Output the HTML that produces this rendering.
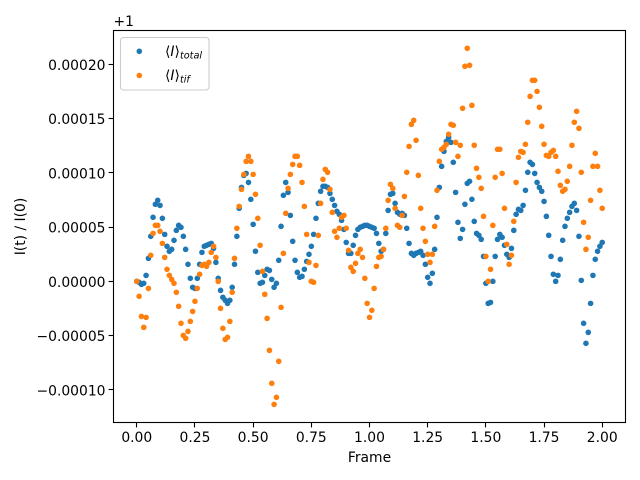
<!DOCTYPE html>
<html>
<head>
<meta charset="utf-8">
<title>Intensity vs Frame</title>
<style>
html,body{margin:0;padding:0;background:#fff;width:640px;height:480px;overflow:hidden}
svg{display:block}
text{font-family:"DejaVu Sans","Liberation Sans",sans-serif;font-size:13.89px;fill:#000}
</style>
</head>
<body>
<svg id="chart" xmlns="http://www.w3.org/2000/svg" width="640" height="480" viewBox="0 0 640 480">
  <rect x="0" y="0" width="640" height="480" fill="#fff"/>
  <g id="marks-total"></g>
  <g id="marks-tif"></g>
  <g id="ticks"></g>
  <rect x="113.5" y="30.5" width="512" height="392" fill="none" stroke="#000" stroke-width="1.1"/>
  <text x="113.5" y="26">+1</text>
  <text x="369.5" y="462" text-anchor="middle">Frame</text>
  <text x="0" y="0" text-anchor="middle" transform="translate(25,226.5) rotate(-90)">I(t) / I(0)</text>
  <g>
    <rect x="120.5" y="37.5" width="88.5" height="52.5" rx="3" ry="3" fill="#fff" fill-opacity="0.8" stroke="#ccc" stroke-width="1.1"/>
    <circle cx="139.3" cy="51.3" r="2.8" fill="#1f77b4"/>
    <circle cx="139.3" cy="75.5" r="2.8" fill="#ff7f0e"/>
    <text x="165" y="56">⟨<tspan font-style="italic">I</tspan>⟩<tspan font-style="italic" font-size="9.7" dy="2.5">total</tspan></text>
    <text x="165" y="80">⟨<tspan font-style="italic">I</tspan>⟩<tspan font-style="italic" font-size="9.7" dy="2.5">tif</tspan></text>
  </g>
</svg>
<script>
// Values are offsets from 1, in units of 1e-6; one value per frame step.
const frameStep = 0.01;
const totalValues = [
0,-0.9,-2.8,-1.8,5.5,21.2,41.5,59.0,71.0,74.7,70.0,58.1,43.3,32.3,27.7,29.5,37.8,47.0,51.6,49.8,
41.5,29.5,15.7,2.8,-5.5,-6.5,2.8,15.7,26.7,32.3,33.2,34.1,35.0,30.4,17.5,2.8,-8.3,-14.7,-17.5,-20.3,
-17.5,-5.5,15.7,41.5,67.3,86.6,97.7,99.5,91.2,75.6,52.5,27.7,8.3,-1.8,-0.9,5.5,11.1,10.1,1.8,-5.5,
-1.8,19.4,50.7,79.3,91.2,82.0,60.8,36.9,19.4,8.3,3.7,4.6,11.1,18.4,24.9,32.3,43.3,58.1,71.9,83.0,
87.6,87.6,86.6,81.1,75.6,70.0,64.5,61.8,56.2,47.9,35.9,25.8,25.8,33.2,42.4,47.9,49.8,50.7,51.6,51.6,
50.7,49.8,48.9,44.2,35.0,27.7,29.5,44.2,65.4,80.2,81.1,71.9,63.6,61.8,62.7,60.8,48.9,35.0,25.8,24.0,
25.8,26.7,27.7,24.0,15.7,3.7,-1.8,7.4,29.5,59.0,86.6,106.0,119.8,129.0,132.7,128.1,109.7,82.0,54.4,39.6,
47.9,71.0,90.3,92.2,75.6,55.3,44.2,42.4,38.7,23.0,-1.8,-20.3,-19.4,0,23.0,38.7,43.3,40.6,33.2,24.9,
22.1,30.4,47.0,61.8,66.4,65.4,70.0,83.9,100.5,109.7,107.8,99.5,91.2,86.6,83.0,73.7,59.9,42.4,23.0,6.5,
0,5.5,20.3,37.8,50.7,58.1,63.6,69.1,71.9,65.4,41.5,0.9,-38.7,-57.1,-47.0,-20.3,5.5,20.3,27.7,32.3,35.9
];
const tifValues = [
0,-13.8,-32.3,-42.4,-33.2,-6.5,24.0,44.2,51.6,51.6,46.1,35.0,22.1,11.1,5.5,1.8,-1.8,-10.1,-23.0,-38.7,
-49.8,-52.5,-46.1,-36.9,-27.7,-18.4,-6.5,6.5,14.7,15.7,13.8,17.5,26.7,32.3,22.1,0,-24.9,-43.3,-53.5,-51.6,
-36.9,-10.1,21.2,48.9,69.1,84.8,98.6,110.6,115.2,110.6,98.6,80.2,58.1,33.2,9.2,-12.0,-34.1,-63.6,-94.0,-113.4,
-106.9,-73.7,-24.0,25.8,62.7,85.7,98.6,107.8,115.2,115.2,106.9,91.2,69.1,43.3,17.5,0,-0.9,14.7,42.4,71.9,
94.0,103.2,100.5,84.8,63.6,46.1,40.6,48.9,59.0,60.8,48.9,28.6,12.9,9.2,16.6,25.8,29.5,22.1,2.8,-20.3,
-33.2,-26.7,-6.5,13.8,22.1,23.0,29.5,48.9,74.7,89.4,85.7,67.3,51.6,49.8,60.8,78.3,100.5,124.4,144.7,148.4,
130.0,97.7,67.3,48.9,36.9,24.9,17.5,24.9,50.7,83.9,110.6,121.7,123.5,126.3,135.5,144.7,143.8,128.1,115.2,125.4,
159.5,198.2,214.8,199.1,162.2,125.4,104.2,95.9,85.7,59.9,23.0,0,11.1,51.6,95.9,121.7,121.7,99.5,67.3,34.1,
15.7,24.0,55.3,91.2,114.3,119.8,118.9,126.3,146.6,170.5,185.3,185.3,175.1,160.4,142.9,126.3,116.1,115.2,118.9,120.7,
115.2,101.4,88.5,83.0,84.8,92.2,106.0,125.4,146.6,156.7,141.0,100.5,54.4,29.5,40.6,74.7,106.0,118.0,106.0,83.9,67.3
];
const xTickValues = [0, 0.25, 0.5, 0.75, 1, 1.25, 1.5, 1.75, 2];
const xTickLabels = ["0.00","0.25","0.50","0.75","1.00","1.25","1.50","1.75","2.00"];
const yTickValues = [-100, -50, 0, 50, 100, 150, 200];
const yTickLabels = ["\u22120.00010","\u22120.00005","0.00000","0.00005","0.00010","0.00015","0.00020"];

const NS = "http://www.w3.org/2000/svg";
function xScale(v) { return 113.5 + (v + 0.1) / 2.2 * 512; }
function yScale(v) { return 422.5 - (v + 130.1) / 361.3 * 392; }

function drawSeries(groupId, values, color, markName) {
  const group = document.getElementById(groupId);
  values.forEach(function (value, i) {
    const dot = document.createElementNS(NS, "circle");
    dot.setAttribute("cx", xScale(i * frameStep).toFixed(2));
    dot.setAttribute("cy", yScale(value).toFixed(2));
    dot.setAttribute("r", "2.8");
    dot.setAttribute("fill", color);
    
    
    group.appendChild(dot);
  });
}
drawSeries("marks-total", totalValues, "#1f77b4", "point-total");
drawSeries("marks-tif", tifValues, "#ff7f0e", "point-tif");

const tickGroup = document.getElementById("ticks");
xTickValues.forEach(function (value, i) {
  const x = Math.round(xScale(value) - 0.5) + 0.5;
  const mark = document.createElementNS(NS, "line");
  mark.setAttribute("x1", x);
  mark.setAttribute("x2", x);
  mark.setAttribute("y1", "422.5");
  mark.setAttribute("y2", "427.4");
  mark.setAttribute("stroke", "#000");
  mark.setAttribute("stroke-width", "1.1");
  
  
  tickGroup.appendChild(mark);
  const label = document.createElementNS(NS, "text");
  label.setAttribute("x", xScale(value));
  label.setAttribute("y", "442");
  label.setAttribute("text-anchor", "middle");
  label.textContent = xTickLabels[i];
  
  
  tickGroup.appendChild(label);
});
yTickValues.forEach(function (value, i) {
  const y = Math.round(yScale(value) - 0.5) + 0.5;
  const mark = document.createElementNS(NS, "line");
  mark.setAttribute("x1", "108.6");
  mark.setAttribute("x2", "113.5");
  mark.setAttribute("y1", y);
  mark.setAttribute("y2", y);
  mark.setAttribute("stroke", "#000");
  mark.setAttribute("stroke-width", "1.1");
  
  
  tickGroup.appendChild(mark);
  const label = document.createElementNS(NS, "text");
  label.setAttribute("x", "105.5");
  label.setAttribute("y", yScale(value) + 5.5);
  label.setAttribute("text-anchor", "end");
  label.textContent = yTickLabels[i];
  
  
  tickGroup.appendChild(label);
});
</script>
</body>
</html>
